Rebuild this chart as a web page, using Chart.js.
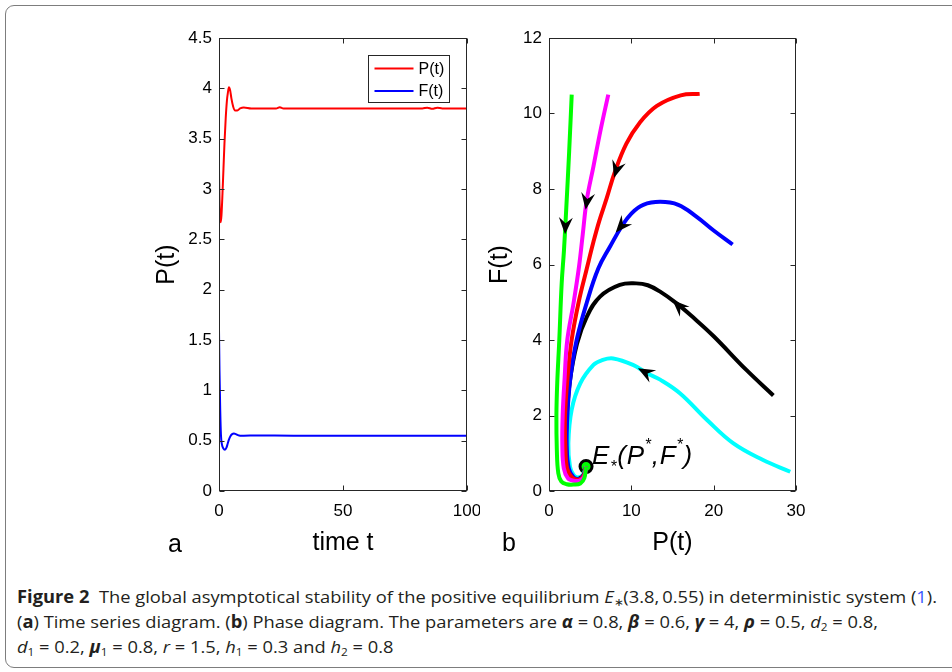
<!DOCTYPE html>
<html>
<head>
<meta charset="utf-8">
<script src="https://cdn.jsdelivr.net/npm/chart.js@4.4.0/dist/chart.umd.min.js"></script>
<style>
  html, body { margin: 0; padding: 0; background: #fff; }
  body { width: 952px; height: 672px; position: relative; overflow: hidden; }
  #frame { position: absolute; left: 5px; top: 5px; width: 990px; height: 663px; border: 1.3px solid #7d7d7d; border-radius: 9px; box-sizing: border-box; }
  .panel { position: absolute; top: 0; width: 340px; height: 570px; }
  #panelA { left: 140px; }
  #panelB { left: 480px; }
  #caption { position: absolute; left: 17px; top: 584px; font-family: 'Open Sans', sans-serif; font-size: 17px; line-height: 25px; color: #231f20; white-space: nowrap; transform-origin: 0 0; }
  #caption sub { font-size: 11px; line-height: 0; vertical-align: -3px; }
  #caption .ref { color: #3b5bff; }
</style>
</head>
<body>
<div id="frame"></div>
<div class="panel" id="panelA"><canvas id="chartA"></canvas></div>
<div class="panel" id="panelB"><canvas id="chartB"></canvas></div>
<div id="caption">
  <div><span id="line1"><b>Figure 2</b>&nbsp; The global asymptotical stability of the positive equilibrium <i>E</i><sub>∗</sub>(3.8,&thinsp;0.55) in deterministic system (<span class="ref">1</span>).</span></div>
  <div>(<b>a</b>) Time series diagram. (<b>b</b>) Phase diagram. The parameters are <b><i>α</i></b> = 0.8, <b><i>β</i></b> = 0.6, <b><i>γ</i></b> = 4, <b><i>ρ</i></b> = 0.5, <i>d</i><sub>2</sub> = 0.8,</div>
  <div><i>d</i><sub>1</sub> = 0.2, <b><i>μ</i></b><sub>1</sub> = 0.8, <i>r</i> = 1.5, <i>h</i><sub>1</sub> = 0.3 and <i>h</i><sub>2</sub> = 0.8</div>
</div>
<script>
// --- (a) time series ---
const tP = [0, 0.2, 0.45, 0.7, 1.0, 1.4, 1.8, 2.2, 2.7, 3.2, 3.6, 4.0, 4.5, 5.0, 5.7, 6.5, 7.4, 8.5, 10, 13, 20, 23, 24.5, 26, 30, 50, 70, 82, 84, 86, 88, 90, 100];
const pValues = [3.2, 2.92, 2.72, 2.67, 2.74, 2.95, 3.2, 3.45, 3.7, 3.88, 3.96, 4.01, 3.98, 3.9, 3.82, 3.78, 3.78, 3.8, 3.81, 3.8, 3.8, 3.8, 3.812, 3.8, 3.8, 3.8, 3.8, 3.8, 3.808, 3.796, 3.808, 3.8, 3.8];
const tF = [0, 0.2, 0.5, 0.8, 1.2, 1.7, 2.4, 3.0, 3.5, 4.0, 4.6, 5.3, 6.0, 6.8, 7.6, 8.5, 10, 15, 30, 50, 70, 100];
const fValues = [1.6, 1.2, 0.8, 0.55, 0.46, 0.425, 0.41, 0.43, 0.47, 0.51, 0.545, 0.565, 0.57, 0.565, 0.555, 0.55, 0.55, 0.552, 0.55, 0.55, 0.55, 0.55];
const seriesNames = ['P(t)', 'F(t)'];

// --- (b) phase trajectories (P, F) ---
const greenP = [2.76, 2.45, 2.1, 1.82, 1.54, 1.25, 1.0, 0.9, 0.95, 1.13, 1.5, 2.15, 3.0, 3.8, 4.3, 4.5];
const greenF = [10.5, 9.0, 7.5, 6.38, 5.5, 4.0, 2.86, 2.0, 1.1, 0.47, 0.25, 0.18, 0.17, 0.2, 0.35, 0.65];
const magentaP = [7.2, 6.3, 5.4, 4.58, 4.1, 3.65, 3.0, 2.22, 1.9, 1.66, 1.62, 1.8, 2.3, 3.0, 3.8, 4.3, 4.5];
const magentaF = [10.5, 9.6, 8.6, 7.7, 6.8, 5.95, 5.0, 4.0, 3.0, 2.0, 1.2, 0.6, 0.34, 0.27, 0.28, 0.4, 0.65];
const redP = [18.3, 16.0, 13.1, 11.0, 9.4, 8.0, 7.0, 6.1, 5.4, 4.6, 3.6, 2.75, 2.25, 1.95, 1.98, 2.2, 2.8, 3.6, 4.2, 4.5];
const redF = [10.52, 10.48, 10.2, 9.75, 9.2, 8.45, 7.75, 7.15, 6.6, 5.9, 5.0, 4.0, 3.0, 2.0, 1.2, 0.6, 0.36, 0.3, 0.4, 0.65];
const blueP = [22.3, 20.0, 17.9, 15.7, 13.5, 11.45, 10.0, 8.8, 7.4, 6.0, 4.6, 3.36, 2.6, 2.23, 2.15, 2.4, 3.0, 3.7, 4.2, 4.5];
const blueF = [6.53, 6.9, 7.27, 7.58, 7.66, 7.58, 7.35, 7.0, 6.47, 5.9, 5.0, 4.0, 3.0, 2.0, 1.2, 0.6, 0.36, 0.32, 0.4, 0.65];
const blackP = [27.25, 24.0, 20.0, 17.5, 15.5, 13.5, 12.0, 10.6, 8.6, 6.2, 4.6, 3.4, 2.5, 2.1, 2.15, 2.5, 3.0, 3.6, 4.2, 4.5];
const blackF = [2.53, 3.2, 4.1, 4.6, 4.97, 5.28, 5.45, 5.5, 5.46, 5.15, 4.62, 3.9, 2.85, 1.7, 0.75, 0.42, 0.33, 0.32, 0.42, 0.65];
const cyanP = [29.3, 26.0, 22.4, 19.2, 15.9, 13.5, 11.9, 10.2, 7.8, 6.5, 5.4, 3.8, 2.75, 2.35, 2.55, 3.0, 3.5, 4.1, 4.5];
const cyanF = [0.51, 0.82, 1.26, 1.88, 2.59, 2.95, 3.12, 3.34, 3.51, 3.47, 3.34, 2.85, 2.15, 1.26, 0.64, 0.42, 0.36, 0.42, 0.65];
const eqP = [4.5];
const eqF = [0.65];

// arrowheads: tip point and a point just upstream on the same curve
const arrowTipP = [1.95, 4.45, 7.9, 8.1, 15.0, 10.8];
const arrowTipF = [6.8, 7.45, 8.3, 6.85, 5.06, 3.25];
const arrowFromP = [2.1, 4.9, 8.6, 8.9, 16.0, 11.9];
const arrowFromF = [7.5, 8.1, 8.8, 7.05, 4.85, 3.12];

Chart.defaults.font.family = '"Liberation Sans", Arial, sans-serif';
Chart.defaults.color = '#000';

function pts(xs, ys) {
  return xs.map((v, i) => ({ x: v, y: ys[i] }));
}

// MATLAB-style box with inward ticks on all four sides
const boxPlugin = {
  id: 'boxPlugin',
  afterDatasetsDraw(chart) {
    const { ctx, chartArea: a, scales: { x, y } } = chart;
    const L = Math.round(a.left) + 0.5, R = Math.round(a.right) - 0.5;
    const T = Math.round(a.top) + 0.5, B = Math.round(a.bottom) - 0.5;
    ctx.save();
    ctx.strokeStyle = '#262626';
    ctx.lineWidth = 1;
    ctx.beginPath();
    x.ticks.forEach(t => {
      const px = Math.round(x.getPixelForValue(t.value)) + 0.5;
      ctx.moveTo(px, B); ctx.lineTo(px, B - 5);
      ctx.moveTo(px, T); ctx.lineTo(px, T + 5);
    });
    y.ticks.forEach(t => {
      const py = Math.round(y.getPixelForValue(t.value)) + 0.5;
      ctx.moveTo(L, py); ctx.lineTo(L + 5, py);
      ctx.moveTo(R, py); ctx.lineTo(R - 5, py);
    });
    ctx.stroke();
    ctx.strokeRect(L, T, R - L, B - T);
    ctx.restore();
  }
};

const tagPlugin = {
  id: 'tagPlugin',
  afterDraw(chart, args, opts) {
    const ctx = chart.ctx;
    ctx.save();
    ctx.font = '25px "Liberation Sans", Arial, sans-serif';
    ctx.fillStyle = '#000';
    ctx.textBaseline = 'alphabetic';
    ctx.fillText(opts.text, opts.x, opts.y);
    ctx.restore();
  }
};

const legendPlugin = {
  id: 'legendPlugin',
  afterDraw(chart) {
    const { ctx, chartArea: a } = chart;
    const w = 81, h = 47;
    const x0 = Math.round(a.right - 18 - w) + 0.5, y0 = Math.round(a.top + 17) + 0.5;
    ctx.save();
    ctx.fillStyle = '#fff';
    ctx.fillRect(x0, y0, w, h);
    ctx.strokeStyle = '#262626';
    ctx.lineWidth = 1;
    ctx.strokeRect(x0, y0, w, h);
    ctx.font = '16px "Liberation Sans", Arial, sans-serif';
    ctx.textBaseline = 'middle';
    chart.data.datasets.forEach((ds, i) => {
      const cy = y0 + 13 + i * 22.5;
      ctx.strokeStyle = ds.borderColor;
      ctx.lineWidth = 2;
      ctx.beginPath();
      ctx.moveTo(x0 + 6, cy); ctx.lineTo(x0 + 45, cy);
      ctx.stroke();
      ctx.fillStyle = '#000';
      ctx.fillText(ds.label, x0 + 50, cy + 1);
    });
    ctx.restore();
  }
};

const arrowPlugin = {
  id: 'arrowPlugin',
  afterDatasetsDraw(chart) {
    const { ctx, scales: { x, y } } = chart;
    ctx.save();
    ctx.fillStyle = '#000';
    arrowTipP.forEach((p, i) => {
      const tx = x.getPixelForValue(p), ty = y.getPixelForValue(arrowTipF[i]);
      const fx = x.getPixelForValue(arrowFromP[i]), fy = y.getPixelForValue(arrowFromF[i]);
      ctx.save();
      ctx.translate(tx, ty);
      ctx.rotate(Math.atan2(ty - fy, tx - fx));
      ctx.beginPath();
      ctx.moveTo(0, 0);
      ctx.lineTo(-17, -7);
      ctx.lineTo(-11, 0);
      ctx.lineTo(-17, 7);
      ctx.closePath();
      ctx.fill();
      ctx.restore();
    });
    // equilibrium label E*(P*,F*)
    const px = x.getPixelForValue(eqP[0]), py = y.getPixelForValue(eqF[0]);
    const big = 'italic 26px "Liberation Sans", Arial, sans-serif';
    const small = 'italic 16px "Liberation Sans", Arial, sans-serif';
    const parts = [['E', big, 0], ['*', small, 8], ['(', big, 0], ['P', big, 0], ['*', small, -14], [',', big, 0], ['F', big, 0], ['*', small, -14], [')', big, 0]];
    let cx = px + 6;
    const base = py - 2;
    ctx.textBaseline = 'alphabetic';
    parts.forEach(([s, f, dy]) => {
      ctx.font = f;
      ctx.fillText(s, cx, base + dy);
      cx += ctx.measureText(s).width + 0.8;
    });
    ctx.restore();
  }
};

function axisTitle(text) {
  return { display: true, text: text, color: '#000', font: { size: 25 }, padding: 0 };
}

function fixX(h) {
  return function (s) { s.height = h; s.paddingLeft = 0; s.paddingRight = 0; };
}
function fixY(w) {
  return function (s) { s.width = w; s.paddingTop = 0; s.paddingBottom = 0; };
}
const tickFmt = v => String(v);

new Chart(document.getElementById('chartA'), {
  type: 'line',
  data: {
    datasets: [
      { label: seriesNames[0], data: pts(tP, pValues), borderColor: '#ff0000', borderWidth: 2, pointRadius: 0, cubicInterpolationMode: 'monotone' },
      { label: seriesNames[1], data: pts(tF, fValues), borderColor: '#0000ff', borderWidth: 2, pointRadius: 0, cubicInterpolationMode: 'monotone' }
    ]
  },
  options: {
    responsive: true,
    maintainAspectRatio: false,
    animation: false,
    layout: { padding: { left: 12, right: 13, top: 38, bottom: 11.5 } },
    plugins: {
      legend: { display: false },
      tooltip: { enabled: false },
      tagPlugin: { text: 'a', x: 28, y: 552 }
    },
    scales: {
      x: {
        type: 'linear', min: 0, max: 100,
        ticks: { stepSize: 50, font: { size: 17 }, padding: 10, maxRotation: 0, callback: tickFmt },
        grid: { display: false, drawTicks: false }, border: { display: false },
        title: axisTitle('time t'),
        afterFit: fixX(67.5)
      },
      y: {
        min: 0, max: 4.5,
        ticks: { stepSize: 0.5, font: { size: 17 }, padding: 7, callback: tickFmt },
        grid: { display: false, drawTicks: false }, border: { display: false },
        title: axisTitle('P(t)'),
        afterFit: fixY(67)
      }
    }
  },
  plugins: [boxPlugin, legendPlugin, tagPlugin]
});

const phaseColors = ['#00ff00', '#ff00ff', '#ff0000', '#0000ff', '#000000', '#00ffff'];
const phaseCurves = [[greenP, greenF], [magentaP, magentaF], [redP, redF], [blueP, blueF], [blackP, blackF], [cyanP, cyanF]];

const phaseSets = phaseCurves.map((c, i) => ({
  data: pts(c[0], c[1]),
  showLine: true,
  borderColor: phaseColors[i],
  borderWidth: 4,
  pointRadius: 0,
  tension: 0.4
}));
phaseSets.push({
  data: pts(eqP, eqF),
  showLine: false,
  pointRadius: 6,
  pointBackgroundColor: '#00ff00',
  pointBorderColor: '#000',
  pointBorderWidth: 3
});

new Chart(document.getElementById('chartB'), {
  type: 'scatter',
  data: { datasets: phaseSets },
  options: {
    responsive: true,
    maintainAspectRatio: false,
    animation: false,
    layout: { padding: { left: 5.5, right: 24, top: 38, bottom: 11.5 } },
    plugins: {
      legend: { display: false },
      tooltip: { enabled: false },
      tagPlugin: { text: 'b', x: 22, y: 551 }
    },
    scales: {
      x: {
        type: 'linear', min: 0, max: 30,
        ticks: { stepSize: 10, font: { size: 17 }, padding: 10, maxRotation: 0, callback: tickFmt },
        grid: { display: false, drawTicks: false }, border: { display: false },
        title: axisTitle('P(t)'),
        afterFit: fixX(67.5)
      },
      y: {
        min: 0, max: 12,
        ticks: { stepSize: 2, font: { size: 17 }, padding: 7, callback: tickFmt },
        grid: { display: false, drawTicks: false }, border: { display: false },
        title: axisTitle('F(t)'),
        afterFit: fixY(63.5)
      }
    }
  },
  plugins: [boxPlugin, arrowPlugin, tagPlugin]
});

// squeeze caption to the reference line length
const line1 = document.getElementById('line1');
const cap = document.getElementById('caption');
const k = 920 / line1.getBoundingClientRect().width;
cap.style.transform = 'scaleX(' + k + ')';
</script>
</body>
</html>
